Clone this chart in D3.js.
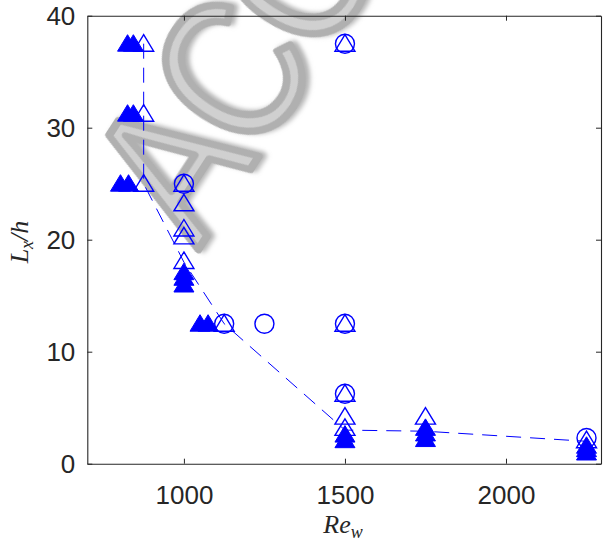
<!DOCTYPE html>
<html>
<head>
<meta charset="utf-8">
<script src="https://cdn.jsdelivr.net/npm/d3@7"></script>
<style>
  html, body { margin: 0; padding: 0; background: #fff; }
  svg { display: block; }
</style>
</head>
<body>
<main></main>
<script>
// filled triangles
const solidRe = [825, 843, 825, 843, 803, 828, 1000, 1000, 1000, 1050, 1075, 1500, 1500, 1750, 1750, 1750, 2250, 2250, 2250];
const solidL  = [37.5, 37.5, 31.25, 31.25, 25, 25, 17.1, 16.6, 16.0, 12.5, 12.5, 2.6, 2.1, 3.2, 2.7, 2.2, 1.6, 1.3, 1.0];
// open triangles
const openRe = [875, 875, 875, 1000, 1000, 1000, 1000, 1000, 1125, 1500, 1500, 1500, 1500, 1500, 1750, 2250];
const openL  = [37.5, 31.25, 25, 25, 23.25, 21, 20.3, 18.1, 12.5, 37.5, 12.5, 6.25, 4.2, 3.2, 4.2, 2.1];
// open circles
const circleRe = [1000, 1125, 1250, 1500, 1500, 1500, 2250];
const circleL  = [25, 12.5, 12.5, 37.5, 12.5, 6.25, 2.3];
// dashed curve
const lineRe = [875, 875, 1000, 1125, 1500, 1750, 2250];
const lineL  = [37.5, 25, 18, 12.5, 3, 2.9, 2];

const xTicks = [1000, 1500, 2000];
const yTicks = [0, 10, 20, 30, 40];

const W = 603, H = 541;
const plot = { left: 87.3, right: 601, top: 15.7, bottom: 463.7 };
const blue = "#0000ff";
const axisColor = "#262626";
const tri = "M0,-9L10,7.5L-10,7.5Z";

const x = d3.scaleLinear().domain([700, 2295]).range([plot.left, plot.right]);
const y = d3.scaleLinear().domain([0, 40]).range([plot.bottom, plot.top]);

const svg = d3.select("main")
  .append("svg")
  .attr("width", W)
  .attr("height", H);

// watermark, drawn first so everything sits on top of it
const drawWatermark = () => {
  const defs = svg.append("defs");
  const f = defs.append("filter").attr("id", "shade").attr("x", "-20%").attr("y", "-20%").attr("width", "140%").attr("height", "140%");
  f.append("feGaussianBlur").attr("in", "SourceAlpha").attr("stdDeviation", 2.5).attr("result", "b");
  f.append("feOffset").attr("in", "b").attr("dx", 3).attr("dy", 3).attr("result", "o");
  f.append("feFlood").attr("flood-color", "#808080").attr("flood-opacity", 0.6);
  f.append("feComposite").attr("in2", "o").attr("operator", "in").attr("result", "s");
  const m = f.append("feMerge");
  m.append("feMergeNode").attr("in", "s");
  m.append("feMergeNode").attr("in", "SourceGraphic");

  svg.append("text")
    .attr("transform", "translate(198,250) rotate(-57) scale(0.85,1)")
    .attr("font-family", "Liberation Sans, Arial, sans-serif")
    .attr("font-size", 198)
    .attr("letter-spacing", -6)
    .attr("fill", "#d0d0d0")
    .attr("stroke", "#b0b0b0")
    .attr("stroke-width", 8)
    .attr("stroke-linejoin", "round")
    .attr("filter", "url(#shade)")
    .text("ACCEPTED");
};

const drawAxes = () => {
  const styleAxis = g => {
    g.attr("color", axisColor)
     .attr("font-family", "Liberation Sans, Arial, Helvetica, sans-serif")
     .attr("font-size", 26);
    g.selectAll("path.domain").attr("stroke-width", 1.1);
    g.selectAll(".tick line").attr("stroke-width", 1);
    g.selectAll(".tick text").attr("fill", axisColor);
  };

  svg.append("g")
    .attr("transform", "translate(0," + plot.bottom + ")")
    .call(d3.axisBottom(x).tickValues(xTicks).tickFormat(d3.format("d")).tickSizeInner(-5).tickSizeOuter(0).tickPadding(22))
    .call(styleAxis);

  svg.append("g")
    .attr("transform", "translate(0," + plot.top + ")")
    .call(d3.axisTop(x).tickValues(xTicks).tickSizeInner(-5).tickSizeOuter(0).tickFormat(""))
    .call(styleAxis);

  svg.append("g")
    .attr("transform", "translate(" + plot.left + ",0)")
    .call(d3.axisLeft(y).tickValues(yTicks).tickSizeInner(-5).tickSizeOuter(0).tickPadding(12))
    .call(styleAxis);

  svg.append("g")
    .attr("transform", "translate(" + plot.right + ",0)")
    .call(d3.axisRight(y).tickValues(yTicks).tickSizeInner(-5).tickSizeOuter(0).tickFormat(""))
    .call(styleAxis);

  // axis labels
  const xl = svg.append("text")
    .attr("x", 343)
    .attr("y", 533)
    .attr("text-anchor", "middle")
    .attr("font-family", "Liberation Serif, Times New Roman, serif")
    .attr("font-style", "italic")
    .attr("font-size", 26)
    .attr("fill", axisColor);
  xl.append("tspan").text("Re");
  xl.append("tspan").attr("font-size", 18).attr("dy", 5).text("w");

  const yl = svg.append("text")
    .attr("transform", "translate(28,242) rotate(-90)")
    .attr("text-anchor", "middle")
    .attr("font-family", "Liberation Serif, Times New Roman, serif")
    .attr("font-style", "italic")
    .attr("font-size", 26)
    .attr("fill", axisColor);
  yl.append("tspan").text("L");
  yl.append("tspan").attr("font-size", 18).attr("dy", 5).text("x");
  yl.append("tspan").attr("dy", -5).text("/h");
};

const drawData = () => {
  const line = d3.line()
    .x(i => x(lineRe[i]))
    .y(i => y(lineL[i]));

  svg.append("path")
    .attr("d", line(d3.range(lineRe.length)))
    .attr("fill", "none")
    .attr("stroke", blue)
    .attr("stroke-width", 1)
    .attr("stroke-dasharray", "15,9");

  svg.selectAll(".solid")
    .data(d3.range(solidRe.length))
    .enter()
    .append("path")
    .attr("class", "solid")
    .attr("d", tri)
    .attr("transform", i => "translate(" + x(solidRe[i]) + "," + y(solidL[i]) + ")")
    .attr("fill", blue)
    .attr("stroke", blue)
    .attr("stroke-width", 1);

  svg.selectAll(".open")
    .data(d3.range(openRe.length))
    .enter()
    .append("path")
    .attr("class", "open")
    .attr("d", tri)
    .attr("transform", i => "translate(" + x(openRe[i]) + "," + y(openL[i]) + ")")
    .attr("fill", "none")
    .attr("stroke", blue)
    .attr("stroke-width", 1.4);

  svg.selectAll(".circ")
    .data(d3.range(circleRe.length))
    .enter()
    .append("circle")
    .attr("class", "circ")
    .attr("cx", i => x(circleRe[i]))
    .attr("cy", i => y(circleL[i]))
    .attr("r", 9.5)
    .attr("fill", "none")
    .attr("stroke", blue)
    .attr("stroke-width", 1.4);
};

const driver = () => {
  drawWatermark();
  drawAxes();
  drawData();
};

driver();
</script>
</body>
</html>
